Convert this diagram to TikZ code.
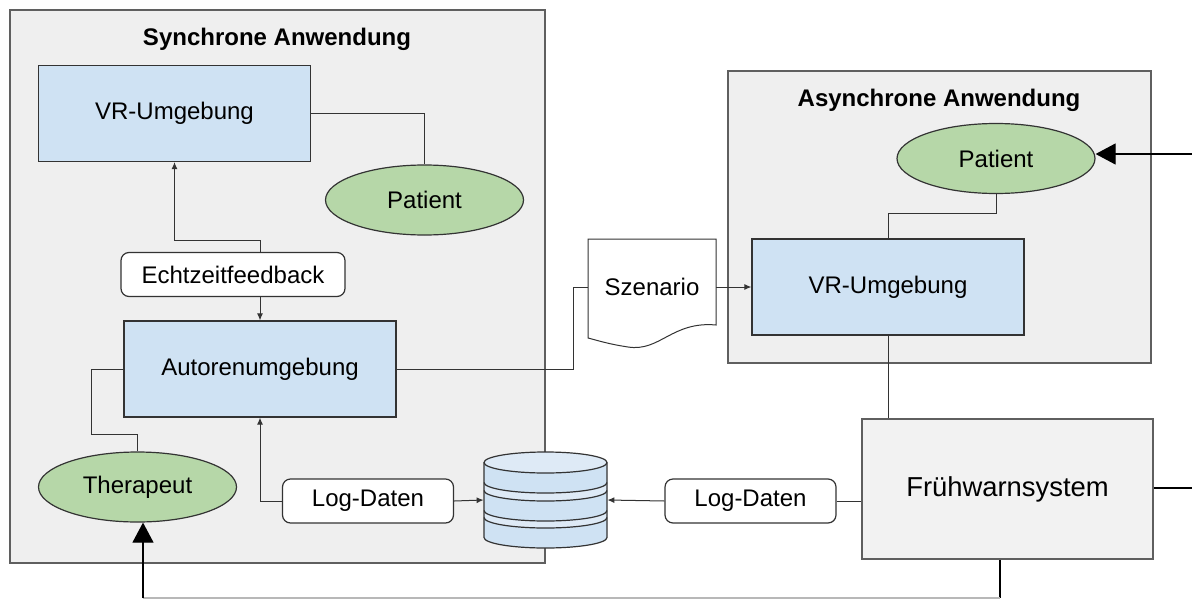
\documentclass[tikz,border=0pt]{standalone}
\usepackage{fontspec}
\setmainfont{Liberation Sans}
\usepackage{tikz}
\usetikzlibrary{positioning,shapes.geometric,arrows.meta}
\definecolor{groupbg}{HTML}{EFEFEF}
\definecolor{groupln}{HTML}{5F5F5F}
\definecolor{envblue}{HTML}{CFE2F3}
\definecolor{dbtop}{HTML}{DEEAF6}
\definecolor{actgreen}{HTML}{B6D7A8}
\definecolor{sysbg}{HTML}{F2F2F2}
\definecolor{lnk}{HTML}{333333}
\definecolor{faint}{HTML}{B8B8B8}
\tikzset{
  group/.style={draw=groupln, fill=groupbg, line width=0.8pt},
  gtitle/.style={font=\bfseries\fontsize{12}{14}\selectfont},
  env/.style={draw=lnk, fill=envblue, line width=0.6pt, minimum width=136pt, minimum height=48pt, inner sep=0pt, font=\fontsize{12}{14}\selectfont},
  actor/.style={ellipse, draw=lnk, fill=actgreen, line width=0.6pt, minimum width=99pt, minimum height=35pt, inner sep=0pt, font=\fontsize{12}{14}\selectfont},
  tagbox/.style={draw=lnk, fill=white, rounded corners=4pt, line width=0.6pt, minimum height=22pt, inner sep=0pt, font=\fontsize{12}{14}\selectfont},
  sysbox/.style={draw=groupln, fill=sysbg, line width=0.8pt, minimum width=145.5pt, minimum height=70pt, inner sep=0pt, font=\fontsize{13.7}{16}\selectfont},
  link/.style={draw=lnk, line width=0.5pt},
  flow/.style={link, -{Latex[length=3.5pt,width=3pt]}},
  bigflow/.style={draw=black, line width=0.6pt, -{Triangle[length=10pt,width=10.5pt]}},
  heavy/.style={draw=black, line width=1.3pt},
  dbline/.style={draw=lnk, line width=0.6pt},
}

\begin{document}
\begin{tikzpicture}[x=0.5pt, y=-0.5pt]
  \useasboundingbox (0,0) rectangle (1192,599);

  % the two application frames
  \draw[group] (10,10) rectangle (545,563);
  \node[gtitle] (synT) at (277,39) {Synchrone Anwendung};
  \draw[group] (728,71) rectangle (1151,363);
  \node[gtitle] (asynT) at (939,100) {Asynchrone Anwendung};

  % synchronous part
  \node[env] (vrS) at (174.5,113.5) {VR-Umgebung};
  \node[actor] (patS) at (424.5,200) {Patient};
  \node[tagbox, minimum width=112pt] (echo) at (233,274.5) {Echtzeitfeedback};
  \node[env] (autor) at (260,369) {Autorenumgebung};
  \node[actor] (ther) at (137.5,487) {Therapeut};
  \node[tagbox, minimum width=85.5pt] (logL) at (368,501) {Log-Daten};

  % database (y axis points down, so arcs from 180 to 0 bulge downwards)
  \node[minimum width=61.5pt, minimum height=48pt] (db) at (545.5,500) {};
  \def\rx{61.5}\def\ry{10.5}
  \fill[envblue] (484,462.5) -- (484,537.5) arc[start angle=180, end angle=0, x radius=\rx, y radius=\ry] -- (607,462.5) -- cycle;
  \foreach \a/\b in {482.5/490.5, 510.5/517.5} {
    \fill[dbtop] (484,\a) arc[start angle=180, end angle=0, x radius=\rx, y radius=\ry] -- (607,\b) arc[start angle=0, end angle=180, x radius=\rx, y radius=\ry] -- cycle;
    \draw[dbline] (484,\a) arc[start angle=180, end angle=0, x radius=\rx, y radius=\ry];
    \draw[dbline] (484,\b) arc[start angle=180, end angle=0, x radius=\rx, y radius=\ry];
  }
  \draw[dbline] (484,462.5) -- (484,537.5) arc[start angle=180, end angle=0, x radius=\rx, y radius=\ry] -- (607,462.5);
  \draw[dbline, fill=dbtop] (545.5,462.5) ellipse[x radius=\rx, y radius=\ry];

  % asynchronous part
  \node[actor] (patA) at (996,158.5) {Patient};
  \node[env] (vrA) at (888,287) {VR-Umgebung};
  \draw[link, fill=white] (588,239) -- (716,239) -- (716,325)
    .. controls (672,321) and (660,352) .. (628,347)
    .. controls (608,344) and (596,340) .. (588,338) -- cycle;
  \node[minimum width=64pt, minimum height=50pt, inner sep=0pt, font=\fontsize{12}{14}\selectfont] (szen) at (652,287) {Szenario};

  \node[sysbox] (fws) at (1007.5,489) {Frühwarnsystem};
  \node[tagbox, minimum width=85.5pt] (logR) at (750.5,501) {Log-Daten};

  % connectors
  \draw[link] (vrS.east) -| (patS.north);
  \draw[flow] (echo.north -| autor) -- ++(0,-11) -| (vrS.south);
  \draw[flow] (echo.south -| autor) -- (autor.north);
  \draw[link] (autor.west) -- ++(-32,0) -- ++(0,65) -| (ther.north);
  \draw[flow] (logL.west) -| (autor.south);
  \draw[flow] (logL.east) -- (db.west);
  \draw[flow] (logR.west) -- (db.east);
  \draw[link] (logR.east) -- (logR.east -| fws.west);
  \draw[link] (fws.north -| vrA) -- (vrA.south);
  \draw[link] (autor.east) -- ++(177,0) |- (szen.west);
  \draw[flow] (szen.east) -- (vrA.west);
  \draw[link] (patA.south) -- ++(0,19) -| (vrA.north);

  % links leaving the frame
  \coordinate (inP) at (1192,154);
  \coordinate (outR) at (1192,488);
  \coordinate (bend) at (1000,598);
  \coordinate (backL) at (143,598);
  \draw[bigflow] (inP) -- (inP -| patA.east);
  \draw[heavy] (fws.east |- outR) -- (outR);
  \draw[heavy] (fws.south -| bend) -- (bend);
  \draw[draw=faint, line width=0.8pt] (bend) -- (backL);
  \draw[bigflow] (backL) -- (backL |- ther.south);
\end{tikzpicture}
\end{document}
